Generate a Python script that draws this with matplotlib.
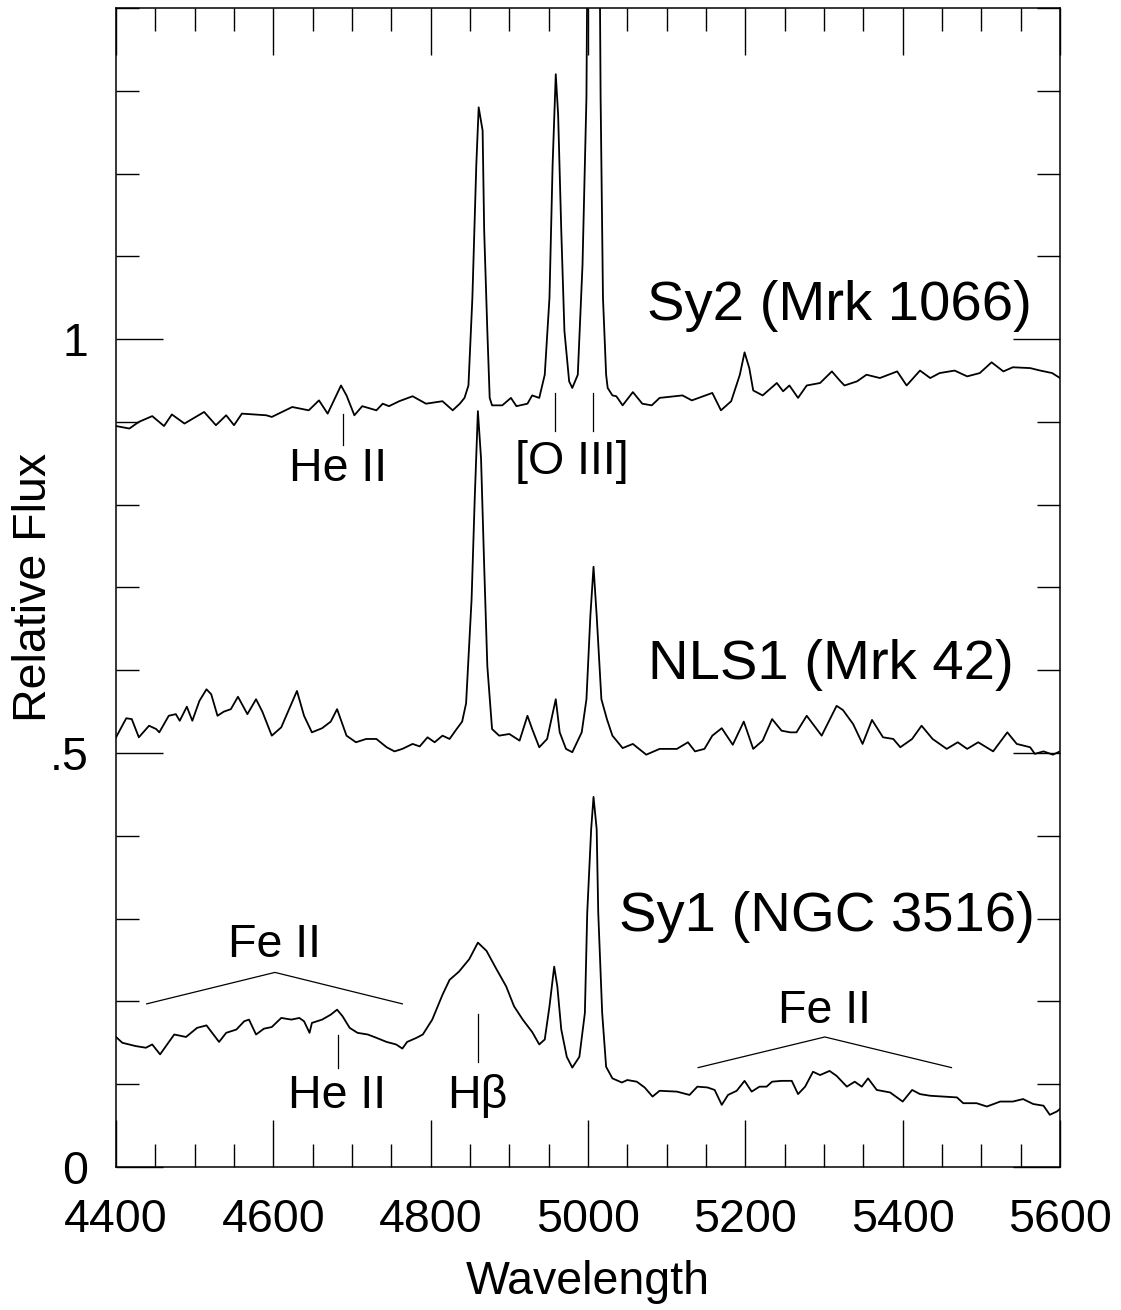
from __future__ import annotations

import matplotlib

matplotlib.use("Agg")
import matplotlib.pyplot as plt
from matplotlib.ticker import MultipleLocator

plt.rcParams["font.family"] = ["Liberation Sans", "DejaVu Sans"]

# Sy2 (Mrk 1066)
sy2_wave = [
    4400, 4417, 4429, 4446, 4461, 4471, 4487, 4512, 4527, 4540, 4550, 4560,
    4591, 4598, 4624, 4645, 4658, 4669, 4686, 4693, 4703, 4713, 4731, 4739,
    4747, 4760, 4777, 4794, 4815, 4828, 4837, 4843, 4848, 4853, 4858, 4861,
    4866, 4868, 4872, 4875, 4878, 4891, 4902, 4909, 4923, 4929, 4938, 4945,
    4951, 4955, 4959, 4962, 4966, 4970, 4976, 4980, 4987, 4993, 4998, 5007,
    5016, 5019, 5023, 5025, 5031, 5036, 5044, 5057, 5069, 5081, 5091, 5120,
    5132, 5158, 5169, 5182, 5193, 5199, 5205, 5210, 5222, 5240, 5248, 5256,
    5267, 5278, 5295, 5310, 5320, 5326, 5342, 5354, 5371, 5393, 5405, 5422,
    5435, 5447, 5466, 5482, 5498, 5513, 5528, 5540, 5562, 5575, 5590, 5600,
]
sy2_flux = [
    0.895, 0.892, 0.900, 0.907, 0.895, 0.909, 0.898, 0.912, 0.896, 0.908, 0.896, 0.910,
    0.908, 0.906, 0.918, 0.914, 0.926, 0.910, 0.944, 0.932, 0.908, 0.919, 0.914, 0.922,
    0.919, 0.925, 0.931, 0.922, 0.925, 0.914, 0.922, 0.929, 0.944, 1.050, 1.211, 1.280,
    1.252, 1.131, 1.010, 0.929, 0.920, 0.920, 0.929, 0.919, 0.922, 0.932, 0.929, 0.957,
    1.050, 1.211, 1.320, 1.271, 1.131, 1.010, 0.949, 0.941, 0.957, 1.090, 1.292, 2.600,
    1.292, 1.050, 0.957, 0.941, 0.932, 0.931, 0.920, 0.936, 0.922, 0.920, 0.929, 0.932,
    0.926, 0.935, 0.914, 0.925, 0.957, 0.984, 0.965, 0.938, 0.932, 0.947, 0.937, 0.944,
    0.929, 0.944, 0.947, 0.961, 0.950, 0.944, 0.949, 0.957, 0.953, 0.961, 0.944, 0.962,
    0.953, 0.959, 0.962, 0.955, 0.959, 0.972, 0.961, 0.966, 0.965, 0.962, 0.959, 0.953,
]

# NLS1 (Mrk 42)
nls1_wave = [
    4400, 4413, 4420, 4429, 4442, 4451, 4455, 4467, 4476, 4481, 4490, 4497,
    4506, 4515, 4521, 4529, 4537, 4546, 4555, 4567, 4578, 4586, 4598, 4610,
    4620, 4630, 4639, 4649, 4662, 4673, 4681, 4693, 4705, 4718, 4731, 4744,
    4754, 4764, 4777, 4786, 4796, 4805, 4815, 4824, 4833, 4840, 4845, 4852,
    4856, 4860, 4864, 4868, 4872, 4878, 4887, 4900, 4913, 4923, 4929, 4938,
    4948, 4959, 4964, 4972, 4980, 4992, 4998, 5003, 5007, 5011, 5017, 5024,
    5031, 5044, 5057, 5074, 5091, 5113, 5127, 5136, 5148, 5158, 5170, 5184,
    5198, 5210, 5222, 5234, 5246, 5257, 5265, 5278, 5297, 5316, 5324, 5337,
    5349, 5361, 5375, 5388, 5397, 5412, 5424, 5438, 5456, 5470, 5482, 5496,
    5515, 5533, 5545, 5562, 5568, 5579, 5591, 5600,
]
nls1_flux = [
    0.519, 0.542, 0.541, 0.519, 0.533, 0.529, 0.525, 0.545, 0.547, 0.539, 0.556, 0.539,
    0.563, 0.577, 0.571, 0.545, 0.550, 0.553, 0.568, 0.547, 0.565, 0.550, 0.521, 0.531,
    0.553, 0.575, 0.545, 0.525, 0.530, 0.538, 0.553, 0.521, 0.513, 0.517, 0.517, 0.507,
    0.502, 0.505, 0.511, 0.508, 0.519, 0.513, 0.521, 0.517, 0.529, 0.538, 0.560, 0.686,
    0.808, 0.913, 0.856, 0.726, 0.605, 0.529, 0.521, 0.523, 0.515, 0.545, 0.529, 0.507,
    0.517, 0.565, 0.525, 0.505, 0.501, 0.525, 0.565, 0.666, 0.725, 0.666, 0.565, 0.541,
    0.521, 0.506, 0.511, 0.498, 0.505, 0.505, 0.513, 0.502, 0.505, 0.521, 0.530, 0.510,
    0.538, 0.505, 0.515, 0.541, 0.527, 0.525, 0.525, 0.545, 0.521, 0.557, 0.552, 0.535,
    0.511, 0.540, 0.519, 0.517, 0.507, 0.517, 0.533, 0.517, 0.505, 0.513, 0.505, 0.513,
    0.502, 0.525, 0.511, 0.507, 0.499, 0.502, 0.498, 0.502,
]

# Sy1 (NGC 3516)
sy1_wave = [
    4400, 4408, 4425, 4438, 4446, 4456, 4465, 4474, 4489, 4503, 4515, 4531,
    4540, 4553, 4563, 4569, 4578, 4588, 4598, 4610, 4623, 4633, 4639, 4646,
    4649, 4662, 4673, 4681, 4688, 4697, 4707, 4720, 4731, 4744, 4756, 4764,
    4770, 4782, 4790, 4802, 4815, 4824, 4836, 4849, 4860, 4871, 4883, 4896,
    4906, 4917, 4929, 4938, 4945, 4951, 4957, 4961, 4966, 4973, 4980, 4989,
    4996, 4999, 5004, 5007, 5011, 5013, 5018, 5023, 5031, 5043, 5050, 5062,
    5072, 5082, 5091, 5113, 5129, 5139, 5152, 5161, 5170, 5178, 5189, 5199,
    5208, 5218, 5227, 5234, 5246, 5259, 5267, 5276, 5286, 5295, 5307, 5316,
    5329, 5339, 5348, 5356, 5367, 5384, 5400, 5412, 5422, 5435, 5452, 5469,
    5477, 5494, 5507, 5524, 5540, 5553, 5566, 5579, 5587, 5596, 5600,
]
sy1_flux = [
    0.157, 0.150, 0.146, 0.144, 0.148, 0.136, 0.148, 0.160, 0.157, 0.168, 0.171, 0.151,
    0.162, 0.166, 0.176, 0.178, 0.160, 0.167, 0.169, 0.180, 0.178, 0.180, 0.176, 0.162,
    0.174, 0.178, 0.184, 0.190, 0.182, 0.168, 0.162, 0.160, 0.156, 0.151, 0.148, 0.143,
    0.151, 0.156, 0.160, 0.178, 0.208, 0.226, 0.236, 0.251, 0.271, 0.261, 0.240, 0.218,
    0.194, 0.178, 0.163, 0.148, 0.154, 0.194, 0.242, 0.218, 0.166, 0.133, 0.120, 0.133,
    0.186, 0.307, 0.408, 0.447, 0.408, 0.307, 0.186, 0.121, 0.107, 0.102, 0.105, 0.103,
    0.096, 0.085, 0.092, 0.091, 0.087, 0.097, 0.096, 0.093, 0.075, 0.087, 0.092, 0.104,
    0.091, 0.097, 0.097, 0.103, 0.104, 0.104, 0.088, 0.097, 0.115, 0.111, 0.116, 0.110,
    0.097, 0.103, 0.097, 0.107, 0.093, 0.090, 0.079, 0.093, 0.088, 0.086, 0.085, 0.084,
    0.077, 0.077, 0.073, 0.079, 0.079, 0.082, 0.076, 0.074, 0.063, 0.067, 0.070,
]

spectrum_names = ["Sy2 (Mrk 1066)", "NLS1 (Mrk 42)", "Sy1 (NGC 3516)"]
name_pos = [(5320, 1.023), (5309, 0.590), (5304, 0.285)]

# line labels: text, text position, marker line (x, y_top, y_bottom)
line_labels = [
    ("He II", (4682, 0.829), [(4688, 0.910, 0.872)]),
    ("[O III]", (4980, 0.837), [(4958, 0.935, 0.889), (5006, 0.935, 0.889)]),
    ("He II", (4681, 0.071), [(4682, 0.159, 0.120)]),
    ("H\u03b2", (4859, 0.071), [(4860, 0.185, 0.127)]),
]
feii_labels = [
    ((4602, 0.254), [4439, 4602, 4764], [0.197, 0.235, 0.197]),
    ((5300, 0.174), [5140, 5301, 5462], [0.120, 0.157, 0.120]),
]


def main() -> None:
    fig = plt.figure(figsize=(11.21, 13.10), dpi=100)
    ax = fig.add_axes([0.1035, 0.1092, 0.8421, 0.8847])

    for wave, flux in [(sy2_wave, sy2_flux), (nls1_wave, nls1_flux), (sy1_wave, sy1_flux)]:
        ax.plot(wave, flux, color="black", linewidth=1.3, solid_joinstyle="round")

    for name, (x, y) in zip(spectrum_names, name_pos):
        ax.text(x, y, name, fontsize=40.5, ha="center", va="baseline")

    for text, (x, y), marks in line_labels:
        ax.text(x, y, text, fontsize=33.5, ha="center", va="baseline")
        for mx, y0, y1 in marks:
            ax.plot([mx, mx], [y0, y1], color="black", linewidth=0.9)

    for (x, y), bx, by in feii_labels:
        ax.text(x, y, "Fe II", fontsize=33.5, ha="center", va="baseline")
        ax.plot(bx, by, color="black", linewidth=0.9)

    ax.set_xlim(4400, 5600)
    ax.set_ylim(0, 1.4)
    ax.xaxis.set_major_locator(MultipleLocator(200))
    ax.xaxis.set_minor_locator(MultipleLocator(50))
    ax.set_yticks([0, 0.5, 1.0], ["0", ".5", "1"])
    ax.yaxis.set_minor_locator(MultipleLocator(0.1))
    ax.tick_params(which="both", direction="in", top=True, right=True, width=1.0)
    ax.tick_params(which="major", length=34, labelsize=33.5)
    ax.tick_params(axis="x", which="major", pad=22)
    ax.tick_params(axis="y", which="major", pad=20)
    ax.tick_params(which="minor", length=16.5)
    for spine in ax.spines.values():
        spine.set_linewidth(1.1)

    ax.set_xlabel("Wavelength", fontsize=33.5)
    ax.set_ylabel("Relative Flux", fontsize=33.5)
    ax.xaxis.set_label_coords(0.5, -0.080)
    ax.yaxis.set_label_coords(-0.064, 0.5)

    fig.savefig("out.png", dpi=100)
    plt.close(fig)


if __name__ == "__main__":
    main()
